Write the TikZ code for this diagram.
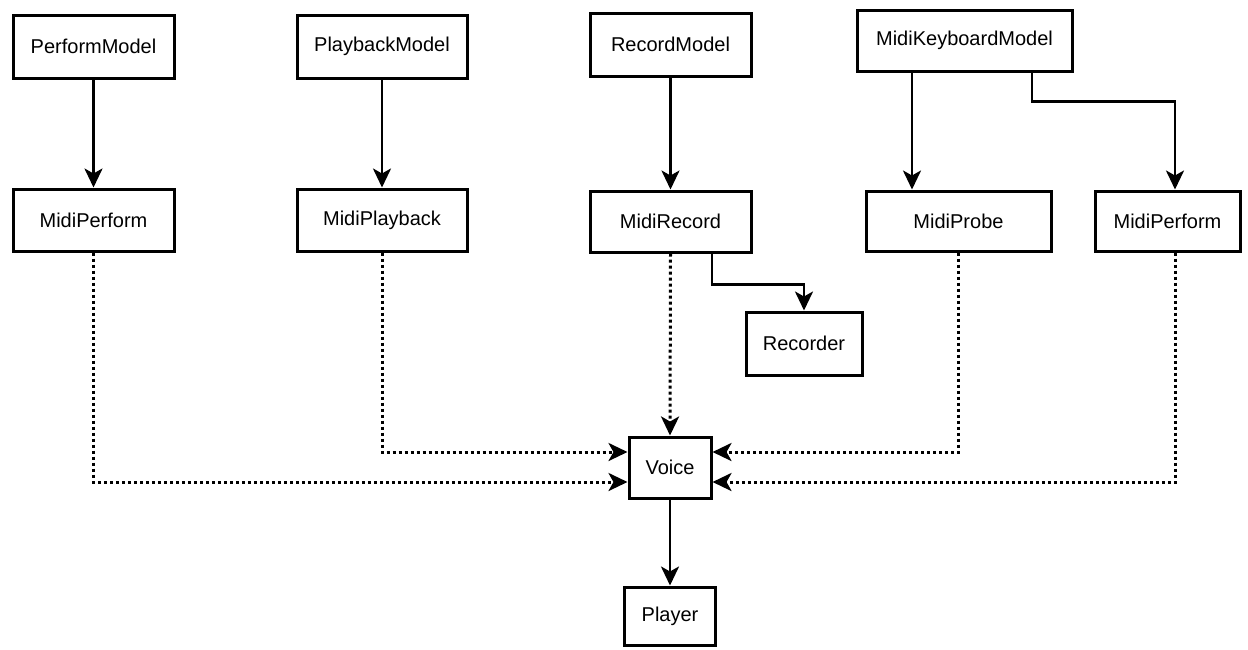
\documentclass[tikz,border=0pt]{standalone}
\usepackage{fontspec}
\setmainfont{Liberation Sans}
\usetikzlibrary{arrows.meta,positioning,calc}

\begin{document}
\begin{tikzpicture}[
  x=1pt, y=-1pt,
  >={Stealth[length=19pt,width=18pt,inset=5pt]},
  every node/.style={draw, rectangle, line width=3pt, align=center, inner sep=0pt,
                     font=\fontsize{20}{24}\selectfont},
  link/.style={->, line width=2.6pt},
  dots/.style={->, line width=3pt, dash pattern=on 3pt off 3pt}
]
\useasboundingbox (0,0) rectangle (1248,649);

\node (pm)     [minimum width=161pt, minimum height=63pt] at (93.5,46.5)   {PerformModel};
\node (pbm)    [minimum width=170pt, minimum height=63pt] at (382,46.5)    {PlaybackModel};
\node (rm)     [minimum width=161pt, minimum height=63pt] at (670.5,44.5)  {RecordModel};
\node (mkm)    [minimum width=215pt, minimum height=61pt] at (964.5,40.5)  {MidiKeyboardModel};

\node (mp)     [minimum width=161pt, minimum height=62pt] at (93.5,220)    {MidiPerform};
\node (mpb)    [minimum width=170pt, minimum height=62pt] at (382,220)     {MidiPlayback};
\node (mr)     [minimum width=161pt, minimum height=61pt] at (670.5,221.5) {MidiRecord};
\node (mprobe) [minimum width=185pt, minimum height=60pt] at (958.5,221)   {MidiProbe};
\node (mp2)    [minimum width=145pt, minimum height=60pt] at (1167.5,221)  {MidiPerform};

\node (rec)    [minimum width=116pt, minimum height=63pt] at (804,343.5)   {Recorder};
\node (voice)  [minimum width=82pt,  minimum height=61pt] at (670,467.5)   {Voice};
\node (player) [minimum width=91pt,  minimum height=58pt] at (670,616)     {Player};

\draw[link] (pm)  -- (mp);
\draw[link] (pbm) -- (mpb);
\draw[link] (rm)  -- (mr);
\draw[link] ([xshift=-52.5pt]mkm.south) -- ([xshift=-52.5pt]mkm.south |- mprobe.north);
\draw[link] ([xshift=67.5pt]mkm.south) -- ++(0,29) -| ([xshift=7.5pt]mp2.north);
\draw[link] ([xshift=41.5pt]mr.south) -- ++(0,31) -| (rec.north);
\draw[link] (voice) -- (player);

\draw[dots] (mp.south)  |- ([yshift=-14.5pt]voice.west);
\draw[dots] (mpb.south) |- ([yshift=15.5pt]voice.west);
\draw[dots] (mr.south)  -- (voice.north);
\draw[dots] (mprobe.south) |- ([yshift=15.5pt]voice.east);
\draw[dots] ([xshift=7.5pt]mp2.south) |- ([yshift=-14.5pt]voice.east);
\end{tikzpicture}
\end{document}
